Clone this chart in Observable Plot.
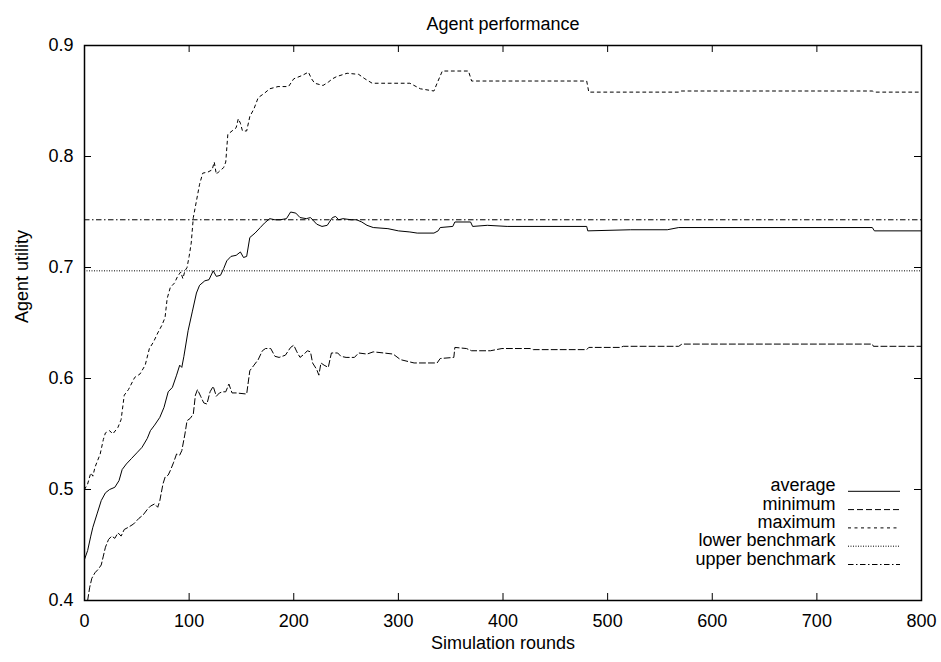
<!DOCTYPE html>
<html>
<head>
<meta charset="utf-8">
<script src="https://cdn.jsdelivr.net/npm/d3@7"></script>
<script src="https://cdn.jsdelivr.net/npm/@observablehq/plot@0.6"></script>
<style>
  html, body { margin: 0; padding: 0; background: #fff; }
  #chart svg { display: block; }
</style>
</head>
<body>
<div id="chart"></div>
<script>
// ---------- data ----------
const titleText = "Agent performance";
const xLabel = "Simulation rounds";
const yLabel = "Agent utility";
const xTicks = [0, 100, 200, 300, 400, 500, 600, 700, 800];
const yTicks = [0.4, 0.5, 0.6, 0.7, 0.8, 0.9];
const legendLabels = ["average", "minimum", "maximum", "lower benchmark", "upper benchmark"];

const lowerBenchmark = 0.697;
const upperBenchmark = 0.743;

const avgRounds = [0,3,6,8,12,16,20,24,29,33,36,40,45,50,55,60,63,67,72,76,80,84,88,91,93,95,99,103,107,110,115,119,123,126,130,133,136,140,145,149,152,155,158,163,168,172,177,182,187,193,197,202,206,212,216,219,222,227,232,237,240,243,247,255,260,265,270,276,290,300,311,318,334,338,340,352,354,369,371,385,404,480,481,522,557,568,753,755,800];
const avgUtility = [0.437,0.445,0.458,0.466,0.478,0.490,0.497,0.500,0.502,0.508,0.518,0.523,0.528,0.533,0.538,0.546,0.553,0.558,0.565,0.574,0.588,0.592,0.603,0.612,0.610,0.620,0.643,0.660,0.677,0.684,0.688,0.689,0.697,0.692,0.693,0.699,0.706,0.710,0.711,0.714,0.709,0.710,0.727,0.731,0.736,0.740,0.744,0.743,0.743,0.744,0.750,0.749,0.745,0.744,0.745,0.742,0.739,0.737,0.738,0.745,0.746,0.743,0.744,0.743,0.743,0.741,0.738,0.736,0.735,0.733,0.732,0.731,0.731,0.733,0.736,0.737,0.741,0.741,0.737,0.738,0.737,0.737,0.733,0.734,0.734,0.736,0.736,0.733,0.733];

const minRounds = [3,5,7,10,13,16,18,20,23,26,29,32,35,38,42,47,52,56,60,63,67,70,72,75,77,80,82,85,88,91,93,96,98,101,104,106,108,111,114,117,120,123,126,129,132,135,138,141,145,155,158,162,166,170,173,178,182,186,192,197,200,203,206,210,213,216,218,222,224,226,229,233,236,242,245,250,258,262,270,276,286,295,302,315,337,340,353,354,365,370,388,399,426,429,480,482,512,515,568,571,753,754,800];
const minUtility = [0.400,0.412,0.420,0.425,0.428,0.432,0.440,0.448,0.455,0.458,0.456,0.461,0.458,0.464,0.466,0.469,0.474,0.477,0.482,0.485,0.487,0.484,0.490,0.505,0.511,0.513,0.517,0.524,0.532,0.531,0.535,0.550,0.562,0.564,0.568,0.585,0.590,0.584,0.578,0.577,0.588,0.593,0.584,0.587,0.588,0.588,0.595,0.587,0.587,0.586,0.607,0.612,0.617,0.625,0.627,0.627,0.620,0.619,0.621,0.628,0.630,0.624,0.619,0.622,0.625,0.624,0.614,0.608,0.603,0.614,0.612,0.610,0.623,0.623,0.620,0.619,0.619,0.623,0.622,0.624,0.623,0.622,0.617,0.614,0.614,0.618,0.619,0.628,0.627,0.625,0.625,0.627,0.627,0.626,0.626,0.628,0.628,0.629,0.629,0.631,0.631,0.629,0.629];

const maxRounds = [0,3,6,8,10,15,18,20,24,27,32,35,38,42,48,53,58,62,66,70,74,77,79,82,86,89,92,94,96,98,100,102,104,106,110,113,118,122,124,126,128,133,135,137,141,145,147,149,151,155,158,162,166,172,177,185,195,200,208,214,217,220,228,233,237,241,251,262,268,275,311,321,334,337,342,367,370,480,482,568,570,753,755,800];
const maxUtility = [0.500,0.505,0.515,0.512,0.520,0.532,0.545,0.551,0.553,0.550,0.556,0.563,0.585,0.590,0.601,0.604,0.612,0.627,0.633,0.641,0.648,0.655,0.672,0.682,0.686,0.692,0.696,0.690,0.697,0.700,0.710,0.722,0.745,0.755,0.775,0.785,0.786,0.788,0.795,0.784,0.786,0.790,0.795,0.820,0.823,0.826,0.834,0.830,0.823,0.823,0.836,0.843,0.853,0.857,0.861,0.863,0.863,0.870,0.873,0.876,0.870,0.866,0.864,0.867,0.870,0.872,0.875,0.874,0.870,0.866,0.866,0.861,0.859,0.866,0.877,0.877,0.868,0.868,0.858,0.858,0.859,0.859,0.858,0.858];

// ---------- layout / style ----------
const W = 941, H = 662;
const mL = 84, mR = 20, mT = 45, mB = 62;
const plotW = W - mL - mR, plotH = H - mT - mB;
const tickLen = 7;
const font = "'Liberation Sans', Arial, Helvetica, sans-serif";
const fs = 18;

const styles = {
  average: {stroke: "#000", strokeWidth: 1},
  minimum: {stroke: "#000", strokeWidth: 1, strokeDasharray: "6,3"},
  maximum: {stroke: "#000", strokeWidth: 1, strokeDasharray: "3,3.5"},
  lower:   {stroke: "#000", strokeWidth: 1, strokeDasharray: "1,1.5"},
  upper:   {stroke: "#000", strokeWidth: 1, strokeDasharray: "5.5,2.5,1.5,2.5"}
};
const legendStyles = [styles.average, styles.minimum, styles.maximum, styles.lower, styles.upper];

const toRows = (xs, ys) => xs.map((x, i) => ({round: x, utility: ys[i]}));
const avgData = toRows(avgRounds, avgUtility);
const minData = toRows(minRounds, minUtility);
const maxData = toRows(maxRounds, maxUtility);

// legend geometry (pixels from plot frame)
const legendRowGap = 18.3;
const legendBottomOffset = 36;
const legendTextRight = 86;
const sampleLeft = 764, sampleRight = 21;
const centerY = mT + plotH / 2;

const legendMarks = [];
legendLabels.forEach((lab, i) => {
  const rowFromBottom = legendBottomOffset + (legendLabels.length - 1 - i) * legendRowGap;
  legendMarks.push(Plot.text([lab], {
    frameAnchor: "bottom-right", dx: -legendTextRight, dy: -rowFromBottom,
    textAnchor: "end", fontSize: fs, fill: "#000"
  }));
  legendMarks.push(Plot.ruleY([0], {
    y: null, insetLeft: sampleLeft, insetRight: sampleRight,
    dy: (mT + plotH - rowFromBottom) - centerY,
    ...legendStyles[i]
  }));
});

const chart = Plot.plot({
  width: W, height: H,
  marginLeft: mL, marginRight: mR, marginTop: mT, marginBottom: mB,
  style: {fontFamily: font, fontSize: fs + "px", color: "#000", background: "#fff", overflow: "visible"},
  x: {domain: [0, 800]},
  y: {domain: [0.4, 0.9]},
  marks: [
    Plot.line(avgData, {x: "round", y: "utility", ...styles.average}),
    Plot.line(minData, {x: "round", y: "utility", ...styles.minimum}),
    Plot.line(maxData, {x: "round", y: "utility", ...styles.maximum}),
    Plot.ruleY([lowerBenchmark], {...styles.lower}),
    Plot.ruleY([upperBenchmark], {...styles.upper}),
    ...legendMarks,
    Plot.frame({stroke: "#000", strokeWidth: 1.5}),
    // inward ticks, mirrored on all sides
    Plot.ruleX(xTicks, {x: d => d, insetTop: plotH - tickLen, stroke: "#000"}),
    Plot.ruleX(xTicks, {x: d => d, insetBottom: plotH - tickLen, stroke: "#000"}),
    Plot.ruleY(yTicks, {y: d => d, insetRight: plotW - tickLen, stroke: "#000"}),
    Plot.ruleY(yTicks, {y: d => d, insetLeft: plotW - tickLen, stroke: "#000"}),
    Plot.axisX({ticks: xTicks, tickSize: 0, tickPadding: 14, tickFormat: d => String(d), label: null, fontSize: fs}),
    Plot.axisY({ticks: yTicks, tickSize: 0, tickPadding: 11, tickFormat: d3.format(".1f"), label: null, fontSize: fs}),
    Plot.text([titleText], {frameAnchor: "top", dy: -28, fontSize: fs, fill: "#000"}),
    Plot.text([xLabel], {frameAnchor: "bottom", dy: 48, fontSize: fs, fill: "#000"}),
    Plot.text([yLabel], {frameAnchor: "left", dx: -62, rotate: -90, fontSize: fs, fill: "#000"})
  ]
});
document.getElementById("chart").appendChild(chart);
</script>
</body>
</html>
